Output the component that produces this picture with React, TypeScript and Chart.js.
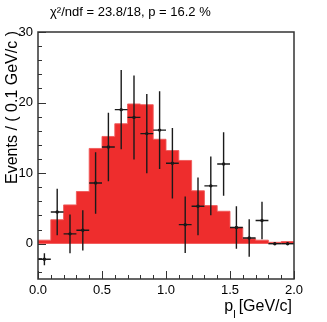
import React, { useEffect, useRef } from "react";
import { Chart, registerables } from "chart.js";

Chart.register(...registerables);

// ---- data ----
const binLowEdges = [0.0, 0.1, 0.2, 0.3, 0.4, 0.5, 0.6, 0.7, 0.8, 0.9, 1.0, 1.1, 1.2, 1.3, 1.4, 1.5, 1.6, 1.7, 1.8, 1.9];
const binCenters = [0.05, 0.15, 0.25, 0.35, 0.45, 0.55, 0.65, 0.75, 0.85, 0.95, 1.05, 1.15, 1.25, 1.35, 1.45, 1.55, 1.65, 1.75, 1.85, 1.95];
const fitHist = [0.5, 3.4, 5.5, 7.4, 13.5, 15.2, 17.0, 19.8, 19.7, 14.8, 13.2, 11.8, 7.5, 5.4, 4.6, 2.3, 0.7, 0.5, 0.2, 0.3];
const dataValues = [-2.2, 4.5, 1.4, 1.9, 8.6, 13.7, 19.0, 17.9, 15.6, 16.1, 11.4, 2.7, 5.3, 8.2, 11.3, 2.3, 0.8, 3.3, 0.0, 0.0];
const dataErrors = [0.85, 3.3, 2.75, 2.85, 4.35, 4.85, 5.6, 5.95, 5.6, 5.5, 5.0, 4.0, 4.1, 4.15, 4.5, 3.0, 2.65, 2.65, 0.0, 0.0];
const binHalfWidth = 0.05;
const xMin = 0;
const xMax = 2.0;
const yMin = -5;
const yMax = 30;
const xTickValues = [0, 0.5, 1.0, 1.5, 2.0];
const yTickValues = [0, 10, 20, 30];
const titleText = "χ²/ndf = 23.8/18, p = 16.2 %";
const yTitleText = "Events / ( 0.1 GeV/c )";
const xTitleMain = "p";
const xTitleSub = "l";
const xTitleUnit = "[GeV/c]";

const FONT = "'Liberation Sans', Arial, sans-serif";
const RED = "#ee2d2d";

const decorPlugin = {
  id: "decor",
  afterDatasetsDraw(chart: any) {
    const ctx = chart.ctx;
    const xs = chart.scales.x;
    const ys = chart.scales.y;
    const area = chart.chartArea;
    // error bars
    ctx.save();
    ctx.beginPath();
    ctx.rect(area.left, area.top, area.right - area.left, area.bottom - area.top);
    ctx.clip();
    ctx.strokeStyle = "#1a1a1a";
    ctx.lineWidth = 1.4;
    for (let i = 0; i < binCenters.length; i++) {
      const c = binCenters[i];
      const v = dataValues[i];
      const e = dataErrors[i];
      const px = xs.getPixelForValue(c);
      const py = ys.getPixelForValue(v);
      ctx.beginPath();
      ctx.moveTo(xs.getPixelForValue(c - binHalfWidth), py);
      ctx.lineTo(xs.getPixelForValue(c + binHalfWidth), py);
      if (e > 0) {
        ctx.moveTo(px, ys.getPixelForValue(v - e));
        ctx.lineTo(px, ys.getPixelForValue(v + e));
      }
      ctx.stroke();
    }
    ctx.restore();
  },
  afterDraw(chart: any) {
    const ctx = chart.ctx;
    const xs = chart.scales.x;
    const ys = chart.scales.y;
    const area = chart.chartArea;
    ctx.save();
    ctx.strokeStyle = "#333";
    ctx.lineWidth = 1;
    // x ticks (inward)
    for (let k = 0; k <= 20; k++) {
      const v = k * 0.1;
      const px = Math.round(xs.getPixelForValue(v)) + 0.5;
      const len = k % 5 === 0 ? 8 : 4;
      ctx.beginPath();
      ctx.moveTo(px, area.bottom);
      ctx.lineTo(px, area.bottom - len);
      ctx.stroke();
    }
    // y ticks (inward)
    for (let v = -4; v <= 30; v += 2) {
      const py = Math.round(ys.getPixelForValue(v)) + 0.5;
      const len = v % 10 === 0 ? 8 : 4;
      ctx.beginPath();
      ctx.moveTo(area.left, py);
      ctx.lineTo(area.left + len, py);
      ctx.stroke();
    }
    // frame
    ctx.lineWidth = 1.5;
    ctx.strokeStyle = "#333";
    ctx.strokeRect(area.left, area.top, area.right - area.left, area.bottom - area.top);

    // title
    ctx.fillStyle = "#000";
    ctx.font = `13px ${FONT}`;
    ctx.textAlign = "left";
    ctx.textBaseline = "alphabetic";
    ctx.fillText(titleText, 50, 16);

    // y title
    ctx.save();
    ctx.translate(16.5, area.top - 1);
    ctx.rotate(-Math.PI / 2);
    ctx.font = `16px ${FONT}`;
    ctx.textAlign = "right";
    ctx.textBaseline = "alphabetic";
    ctx.fillText(yTitleText, 0, 0);
    ctx.restore();

    // x title
    ctx.font = `16px ${FONT}`;
    ctx.textAlign = "right";
    ctx.fillText(xTitleUnit, area.right - 2, 311);
    const unitW = ctx.measureText(xTitleUnit).width;
    const unitLeft = area.right - 2 - unitW;
    ctx.font = `11px ${FONT}`;
    ctx.textAlign = "right";
    ctx.fillText(xTitleSub, unitLeft - 3, 318);
    const subW = ctx.measureText(xTitleSub).width;
    ctx.font = `16px ${FONT}`;
    ctx.fillText(xTitleMain, unitLeft - 3 - subW, 311);
    ctx.restore();
  },
};

export default function App() {
  const canvasRef = useRef<HTMLCanvasElement | null>(null);

  useEffect(() => {
    const canvas = canvasRef.current;
    if (!canvas) return;
    const histPoints = binLowEdges.map((x, i) => ({ x, y: fitHist[i] }));
    histPoints.push({ x: xMax, y: fitHist[fitHist.length - 1] });
    const chart = new Chart(canvas, {
      type: "line",
      data: {
        datasets: [
          {
            type: "line",
            data: histPoints,
            stepped: "before",
            fill: "origin",
            backgroundColor: RED,
            borderColor: "rgba(240,90,90,0.9)",
            borderWidth: 1,
            pointRadius: 0,
            order: 2,
          } as any,
          {
            type: "scatter",
            data: binCenters.map((x, i) => ({ x, y: dataValues[i] })),
            backgroundColor: "#111",
            borderColor: "#111",
            pointRadius: 1.7,
            borderWidth: 0,
            showLine: false,
            order: 1,
          } as any,
        ],
      },
      plugins: [decorPlugin],
      options: {
        responsive: false,
        animation: false,
        devicePixelRatio: 1,
        layout: { padding: { top: 32, right: 33, left: 0, bottom: 0 } },
        plugins: {
          legend: { display: false },
          tooltip: { enabled: false },
          title: { display: false },
        },
        scales: {
          x: {
            type: "linear",
            min: xMin,
            max: xMax,
            grid: { display: false, drawTicks: false },
            border: { display: false },
            afterBuildTicks: (scale: any) => {
              scale.ticks = xTickValues.map((value) => ({ value }));
            },
            afterFit: (scale: any) => {
              scale.height = 43;
            },
            ticks: {
              autoSkip: false,
              maxRotation: 0,
              padding: 4,
              color: "#000",
              font: { family: FONT, size: 13 },
              callback: (v: any) => Number(v).toFixed(1),
            },
          },
          y: {
            type: "linear",
            min: yMin,
            max: yMax,
            grid: { display: false, drawTicks: false },
            border: { display: false },
            afterBuildTicks: (scale: any) => {
              scale.ticks = yTickValues.map((value) => ({ value }));
            },
            afterFit: (scale: any) => {
              scale.width = 38;
            },
            ticks: {
              padding: 5,
              color: "#000",
              font: { family: FONT, size: 13 },
              callback: (v: any) => String(v),
            },
          },
        },
      } as any,
    });
    return () => chart.destroy();
  }, []);

  return (
    <div style={{ position: "fixed", left: 0, top: 0, width: 327, height: 322, background: "#fff" }}>
      <canvas ref={canvasRef} width={327} height={322} style={{ width: 327, height: 322 }} />
    </div>
  );
}
